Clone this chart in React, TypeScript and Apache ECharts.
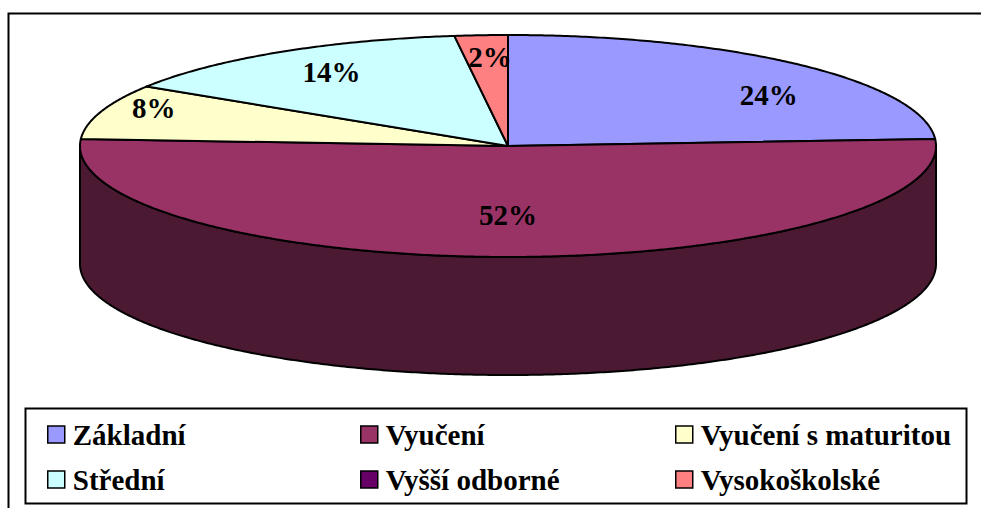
import React, { useEffect, useRef } from "react";
import * as echarts from "echarts";

const categories = ["Základní", "Vyučení", "Vyučení s maturitou", "Střední", "Vyšší odborné", "Vysokoškolské"];
const shares = [24, 52, 8, 14, 0, 2];
const colors = ["#9999FF", "#993366", "#FFFFCC", "#CCFFFF", "#660066", "#FF8080"];
const sideColors = ["#4C4C80", "#4C1933", "#808066", "#668080", "#330033", "#804040"];
// label placement as fractions of the ellipse radii along the slice's mid-angle
const labelFractions = [[0.89, 0.63], [0, 0.62], [0.87, 1.12], [0.77, 0.79], [0, 0], [0.67, 0.8]];
const legendColumns = [[0, 3], [1, 4], [2, 5]];

const CX = 508, CY = 146, RX = 428, RY = 111, DEPTH = 118;
const FONT = "Liberation Serif";

export default function App() {
  const ref = useRef<HTMLDivElement>(null);
  useEffect(() => {
    if (!ref.current) return;
    const chart = echarts.init(ref.current, undefined, { renderer: "svg" });
    const total = shares.reduce((a, b) => a + b, 0);
    const starts: number[] = [];
    let acc = 0;
    shares.forEach((v) => { starts.push(acc); acc += v; });

    const pt = (t: number, dy = 0) => [CX + RX * Math.sin(t), CY - RY * Math.cos(t) + dy];
    const arc = (a0: number, a1: number, dy = 0) => {
      const n = Math.max(2, Math.ceil(Math.abs(a1 - a0) / (Math.PI / 360)));
      const out: number[][] = [];
      for (let k = 0; k <= n; k++) out.push(pt(a0 + ((a1 - a0) * k) / n, dy));
      return out;
    };

    const series = categories.map((name, i) => ({
      type: "custom",
      name,
      coordinateSystem: "none",
      silent: true,
      itemStyle: { color: colors[i] },
      data: [[starts[i], starts[i] + shares[i], shares[i]]],
      renderItem: (params: any, api: any) => {
        const s = api.value(0), e = api.value(1), v = api.value(2);
        const children: any[] = [];
        if (v <= 0) return { type: "group", children };
        const a0 = (s / total) * Math.PI * 2;
        const a1 = (e / total) * Math.PI * 2;
        const lo = Math.max(a0, Math.PI / 2);
        const hi = Math.min(a1, (Math.PI * 3) / 2);
        if (lo < hi) {
          const top = arc(lo, hi);
          const bottom = arc(hi, lo, DEPTH);
          children.push({
            type: "polygon",
            z2: 1,
            shape: { points: top.concat(bottom) },
            style: { fill: sideColors[i], stroke: "#000", lineWidth: 2, lineJoin: "round" },
          });
        }
        children.push({
          type: "polygon",
          z2: 2,
          shape: { points: [[CX, CY]].concat(arc(a0, a1)) },
          style: { fill: colors[i], stroke: "#000", lineWidth: 2, lineJoin: "round" },
        });
        const mid = (a0 + a1) / 2;
        const [fx, fy] = labelFractions[i];
        children.push({
          type: "text",
          z2: 10,
          x: CX + RX * fx * Math.sin(mid),
          y: CY - RY * fy * Math.cos(mid),
          style: {
            text: Math.round((v / total) * 100) + "%",
            fontFamily: FONT,
            fontWeight: "bold",
            fontSize: 29,
            fill: "#000",
            align: "center",
            verticalAlign: "middle",
          },
        });
        return { type: "group", children };
      },
    }));

    const legend = legendColumns.map((col, c) => ({
      data: col.map((k) => categories[k]),
      orient: "vertical",
      left: [42, 355, 670][c],
      top: 415,
      itemGap: 16,
      itemWidth: 17,
      itemHeight: 17,
      icon: "rect",
      selectedMode: false,
      itemStyle: { borderColor: "#000", borderWidth: 1.5 },
      textStyle: { fontFamily: FONT, fontWeight: "bold", fontSize: 29, color: "#000", padding: [0, 0, 0, 3] },
    }));

    chart.setOption({
      animation: false,
      backgroundColor: "#fff",
      textStyle: { fontFamily: FONT },
      legend,
      graphic: [
        { type: "rect", shape: { x: 8.5, y: 13.5, width: 990, height: 510 }, style: { fill: "none", stroke: "#000", lineWidth: 2 }, silent: true },
        { type: "rect", shape: { x: 25.5, y: 408.5, width: 941, height: 95 }, style: { fill: "none", stroke: "#000", lineWidth: 2 }, silent: true },
      ],
      series,
    });
    return () => chart.dispose();
  }, []);
  return <div ref={ref} style={{ position: "fixed", left: 0, top: 0, width: 981, height: 508 }} />;
}
